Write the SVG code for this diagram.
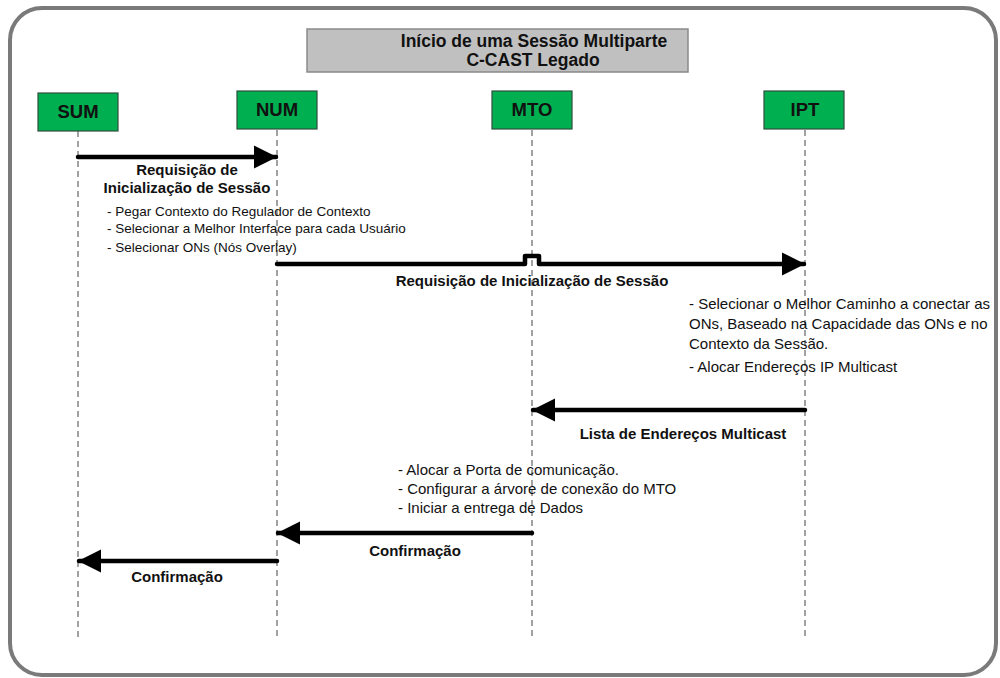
<svg xmlns="http://www.w3.org/2000/svg" width="1000" height="678" viewBox="0 0 1000 678">
  <style>
    .frame { fill: #ffffff; stroke: #7a7a7a; stroke-width: 4; }
    .title-box { fill: #c0c0c0; stroke: #8a8a8a; stroke-width: 1.5; }
    .node rect { fill: #00b050; stroke: #2f4f3f; stroke-width: 1.2; }
    .node text { font-family: "Liberation Sans", Arial, sans-serif; font-weight: bold; font-size: 18.5px; fill: #111; text-anchor: middle; }
    .lifeline { stroke: #444; stroke-width: 1; stroke-dasharray: 6 4; fill: none; }
    .msg { stroke: #000; stroke-width: 4.5; fill: none; stroke-linecap: round; stroke-linejoin: round; }
    .label { font-family: "Liberation Sans", Arial, sans-serif; font-weight: bold; font-size: 15px; fill: #111; text-anchor: middle; }
    .title { font-family: "Liberation Sans", Arial, sans-serif; font-weight: bold; font-size: 17.5px; fill: #111; text-anchor: middle; }
    .note { font-family: "Liberation Sans", Arial, sans-serif; font-size: 13.5px; fill: #111; }
    .note-lg { font-family: "Liberation Sans", Arial, sans-serif; font-size: 15px; fill: #111; }
  </style>
  <defs>
    <marker id="head" viewBox="0 0 10 10" refX="9.5" refY="5" markerWidth="5.2" markerHeight="5.2" markerUnits="strokeWidth" orient="auto">
      <path d="M0,0 L10,5 L0,10 Z" fill="#000"/>
    </marker>
  </defs>

  <rect class="frame" x="10" y="8" width="986" height="667" rx="32" ry="32"/>

  <g id="title">
    <rect class="title-box" x="307" y="29" width="381" height="43"/>
    <text class="title" x="534" y="47">Início de uma Sessão Multiparte</text>
    <text class="title" x="533" y="66">C-CAST Legado</text>
  </g>

  <!-- lifelines -->
  <g id="lifelines">
    <line class="lifeline" x1="78" y1="131" x2="78" y2="638"/>
    <line class="lifeline" x1="277" y1="130" x2="277" y2="638"/>
    <line class="lifeline" x1="532" y1="130" x2="532" y2="638"/>
    <line class="lifeline" x1="805" y1="130" x2="805" y2="638"/>
  </g>

  <g id="node-sum" class="node">
    <rect x="38" y="93" width="80" height="38"/>
    <text x="78" y="118">SUM</text>
  </g>
  <g id="node-num" class="node">
    <rect x="237" y="91" width="80" height="38"/>
    <text x="277" y="116">NUM</text>
  </g>
  <g id="node-mto" class="node">
    <rect x="492" y="91" width="80" height="38"/>
    <text x="532" y="116">MTO</text>
  </g>
  <g id="node-ipt" class="node">
    <rect x="764" y="91" width="80" height="38"/>
    <text x="805" y="116">IPT</text>
  </g>

  <!-- messages -->
  <g id="connectors">
    <path class="msg" d="M78,157 L276,157" marker-end="url(#head)"/>
    <path class="msg" d="M277,264 L525,264 L525,256 L539,256 L539,264 L804,264" marker-end="url(#head)"/>
    <path class="msg" d="M805,410 L533,410" marker-end="url(#head)"/>
    <path class="msg" d="M532,533 L278,533" marker-end="url(#head)"/>
    <path class="msg" d="M277,561 L79,561" marker-end="url(#head)"/>
  </g>

  <g id="labels">
    <text class="label" x="187" y="175">Requisição de</text>
    <text class="label" x="187" y="193">Inicialização de Sessão</text>
    <text class="label" x="532" y="286">Requisição de Inicialização de Sessão</text>
    <text class="label" x="683" y="439">Lista de Endereços Multicast</text>
    <text class="label" x="415" y="556">Confirmação</text>
    <text class="label" x="177" y="582">Confirmação</text>
  </g>

  <g id="notes">
    <text class="note" x="107" y="216">- Pegar Contexto do Regulador de Contexto</text>
    <text class="note" x="107" y="233">- Selecionar a Melhor Interface para cada Usuário</text>
    <text class="note" x="107" y="252">- Selecionar ONs (Nós Overlay)</text>
    <text class="note-lg" x="689" y="309">- Selecionar o Melhor Caminho a conectar as</text>
    <text class="note-lg" x="689" y="329">ONs, Baseado na Capacidade das ONs e no</text>
    <text class="note-lg" x="689" y="349">Contexto da Sessão.</text>
    <text class="note-lg" x="689" y="372">- Alocar Endereços IP Multicast</text>
    <text class="note-lg" x="398" y="475">- Alocar a Porta de comunicação.</text>
    <text class="note-lg" x="398" y="494">- Configurar a árvore de conexão do MTO</text>
    <text class="note-lg" x="398" y="513">- Iniciar a entrega de Dados</text>
  </g>
</svg>
